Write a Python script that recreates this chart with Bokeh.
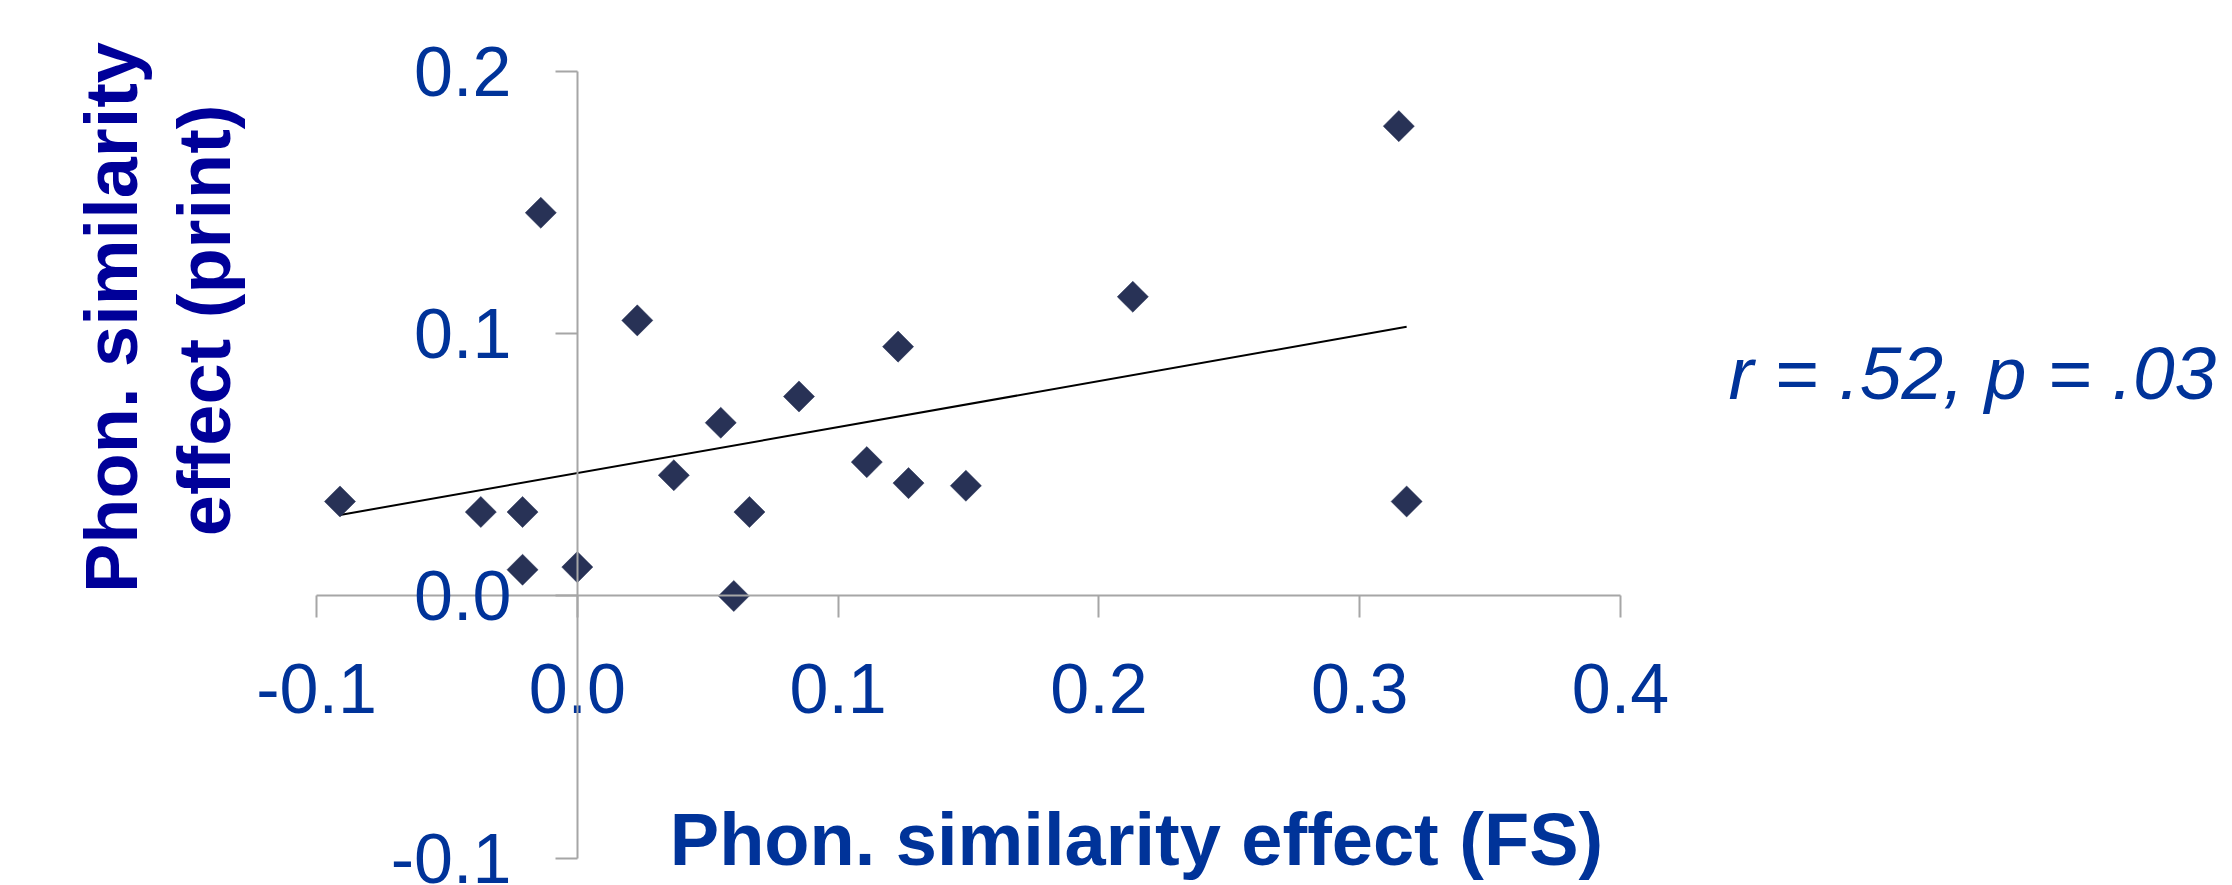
import numpy as np
from bokeh.plotting import figure
from bokeh.models import Range1d, FixedTicker, NumeralTickFormatter, Label, ColumnDataSource, LinearAxis
from bokeh.embed import file_html
from bokeh.resources import INLINE

# ---- data ----
fs_effect = [-0.091, -0.014, -0.037, -0.021, -0.021, 0.000, 0.023, 0.037, 0.055, 0.066,
             0.060, 0.085, 0.111, 0.123, 0.127, 0.149, 0.213, 0.315, 0.318]
print_effect = [0.036, 0.146, 0.032, 0.032, 0.010, 0.011, 0.105, 0.046, 0.066, 0.032,
                0.000, 0.076, 0.051, 0.095, 0.043, 0.042, 0.114, 0.179, 0.036]
x_ticks = [-0.1, 0.0, 0.1, 0.2, 0.3, 0.4]
y_ticks = [-0.1, 0.0, 0.1, 0.2]
x_title = "Phon. similarity effect (FS)"
y_title_lines = ["Phon. similarity", "effect (print)"]
stat_text = "r = .52, p = .03"

FONT = "Liberation Sans"
BLUE = "#003399"
NAVY = "#000099"
MARK = "#283256"
AXIS = "#A6A6A6"

W, H = 2232, 885
# the plotting frame fills the whole canvas; axes are drawn through the origin
p = figure(width=W, height=H, output_backend="svg", toolbar_location=None,
           x_range=Range1d(-0.22117, 0.63466), y_range=Range1d(-0.11029, 0.22686),
           x_axis_location=None, y_axis_location=None,
           min_border=0, min_border_left=0, min_border_right=0,
           min_border_top=0, min_border_bottom=0)
p.outline_line_color = None
p.background_fill_color = "white"
p.border_fill_color = "white"
p.xgrid.visible = False
p.ygrid.visible = False

xaxis = LinearAxis(bounds=(x_ticks[0], x_ticks[-1]))
yaxis = LinearAxis(bounds=(y_ticks[0], y_ticks[-1]))
p.add_layout(xaxis, "below")
p.add_layout(yaxis, "left")

for ax, ticks, standoff in ((xaxis, x_ticks, 46), (yaxis, y_ticks, 44)):
    ax.fixed_location = 0
    ax.ticker = FixedTicker(ticks=ticks, minor_ticks=[])
    ax.formatter = NumeralTickFormatter(format="0.0")
    ax.axis_line_color = AXIS
    ax.axis_line_width = 2
    ax.major_tick_line_color = AXIS
    ax.major_tick_line_width = 2
    ax.major_tick_out = 22
    ax.major_tick_in = 0
    ax.minor_tick_line_color = None
    ax.major_label_text_font = FONT
    ax.major_label_text_font_size = "70px"
    ax.major_label_text_color = BLUE
    ax.major_label_standoff = standoff

src = ColumnDataSource(dict(x=fs_effect, y=print_effect))

# linear trend line (least squares) over the data's x-extent
slope, intercept = np.polyfit(fs_effect, print_effect, 1)
xs = np.array([min(fs_effect), max(fs_effect)])
p.line(xs, slope * xs + intercept, line_color="black", line_width=2)

p.scatter("x", "y", source=src, marker="square", angle=np.pi / 4, size=22,
          fill_color=MARK, line_color=MARK, line_width=0.5)

p.add_layout(Label(x=0.2144, y=-0.0927, text=x_title, text_font=FONT,
                   text_font_size="74px", text_font_style="bold", text_color=BLUE,
                   text_align="center", text_baseline="alphabetic"))
p.add_layout(Label(x=-0.1787, y=0.1061, text=y_title_lines[0], text_font=FONT,
                   text_font_size="74px", text_font_style="bold", text_color=NAVY,
                   text_align="center", text_baseline="alphabetic", angle=np.pi / 2))
p.add_layout(Label(x=-0.1430, y=0.1050, text=y_title_lines[1], text_font=FONT,
                   text_font_size="74px", text_font_style="bold", text_color=NAVY,
                   text_align="center", text_baseline="alphabetic", angle=np.pi / 2))
p.add_layout(Label(x=0.4414, y=0.0850, text=stat_text, text_font=FONT,
                   text_font_size="75px", text_font_style="italic", text_color=BLUE,
                   text_align="left", text_baseline="alphabetic"))

open("out.html", "w").write(file_html(p, INLINE))
